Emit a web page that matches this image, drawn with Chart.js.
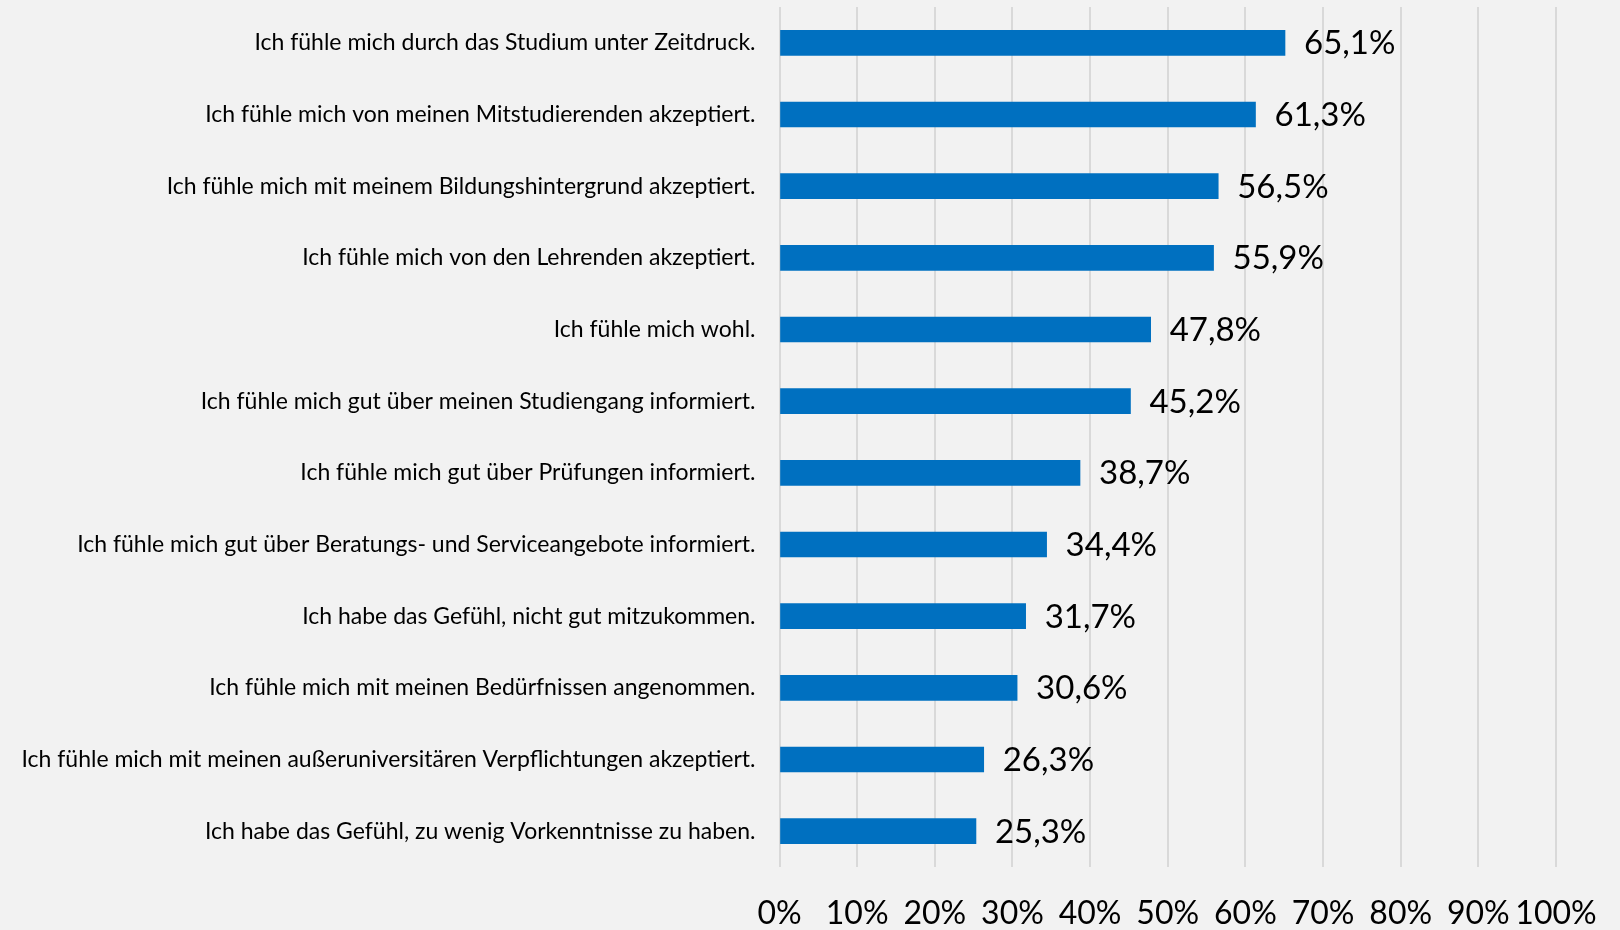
<!DOCTYPE html>
<html>
<head>
<meta charset="utf-8">
<script src="https://cdn.jsdelivr.net/npm/chart.js@4"></script>
<style>
  html, body { margin: 0; padding: 0; background: #f2f2f2; }
  .chart-box { width: 1620px; height: 930px; }
</style>
</head>
<body>
<div class="chart-box"><canvas id="chart"></canvas></div>
<script>
const statements = [
  "Ich fühle mich durch das Studium unter Zeitdruck.",
  "Ich fühle mich von meinen Mitstudierenden akzeptiert.",
  "Ich fühle mich mit meinem Bildungshintergrund akzeptiert.",
  "Ich fühle mich von den Lehrenden akzeptiert.",
  "Ich fühle mich wohl.",
  "Ich fühle mich gut über meinen Studiengang informiert.",
  "Ich fühle mich gut über Prüfungen informiert.",
  "Ich fühle mich gut über Beratungs- und Serviceangebote informiert.",
  "Ich habe das Gefühl, nicht gut mitzukommen.",
  "Ich fühle mich mit meinen Bedürfnissen angenommen.",
  "Ich fühle mich mit meinen außeruniversitären Verpflichtungen akzeptiert.",
  "Ich habe das Gefühl, zu wenig Vorkenntnisse zu haben."
];
const agreement = [65.1, 61.3, 56.5, 55.9, 47.8, 45.2, 38.7, 34.4, 31.7, 30.6, 26.3, 25.3];
const percentTicks = [0, 10, 20, 30, 40, 50, 60, 70, 80, 90, 100];

const FONT = "Lato, 'Open Sans', sans-serif";

// value labels to the right of each bar, German decimal comma
const valueLabels = {
  id: "valueLabels",
  afterDatasetsDraw(chart) {
    const ctx = chart.ctx;
    const meta = chart.getDatasetMeta(0);
    ctx.save();
    ctx.font = "33px " + FONT;
    ctx.fillStyle = "#000";
    ctx.textAlign = "left";
    ctx.textBaseline = "middle";
    meta.data.forEach((bar, i) => {
      const txt = agreement[i].toFixed(1).replace(".", ",") + "%";
      ctx.fillText(txt, bar.x + 19, bar.y + 1);
    });
    ctx.restore();
  }
};

new Chart(document.getElementById("chart"), {
  type: "bar",
  data: {
    labels: statements,
    datasets: [{
      data: agreement,
      backgroundColor: "#0070c0",
      borderWidth: 0,
      barThickness: 25
    }]
  },
  plugins: [valueLabels],
  options: {
    indexAxis: "y",
    responsive: true,
    maintainAspectRatio: false,
    animation: false,
    layout: { padding: { left: 0, right: 64, top: 7, bottom: 0 } },
    plugins: {
      legend: { display: false },
      tooltip: { enabled: false }
    },
    scales: {
      x: {
        min: 0,
        max: 100,
        afterBuildTicks: (scale) => {
          scale.ticks = percentTicks.map(v => ({ value: v }));
        },
        afterFit: (scale) => {
          scale.height = 63;
          scale.paddingLeft = 0;
          scale.paddingRight = 0;
        },
        border: { display: false },
        grid: { color: "#d9d9d9", lineWidth: 2, drawTicks: false },
        ticks: {
          autoSkip: false,
          maxRotation: 0,
          padding: 31,
          color: "#000",
          font: { family: FONT, size: 32, lineHeight: 1 },
          callback: (v) => v + "%"
        }
      },
      y: {
        afterFit: (scale) => {
          scale.width = 779.5;
          scale.paddingTop = 0;
          scale.paddingBottom = 0;
        },
        border: { display: false },
        grid: { display: false, drawTicks: false },
        ticks: {
          padding: 24,
          color: "#000",
          font: { family: FONT, size: 23 }
        }
      }
    }
  }
});
</script>
</body>
</html>
